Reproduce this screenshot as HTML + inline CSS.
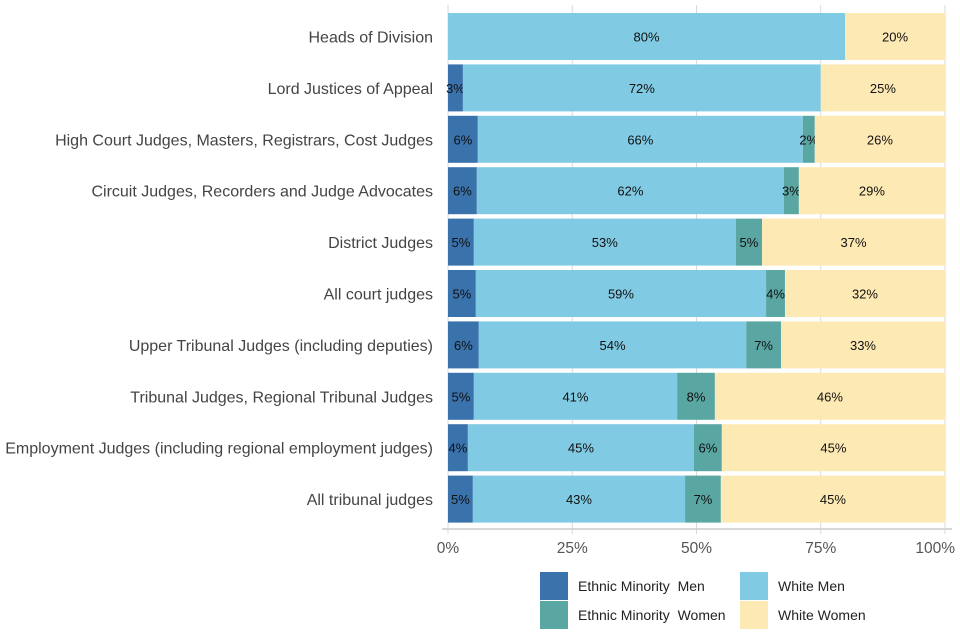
<!DOCTYPE html>
<html><head><meta charset="utf-8"><style>
body{margin:0;background:#fff;}
svg{display:block;font-family:"Liberation Sans",sans-serif;}
</style></head><body>
<svg id="chart" width="960" height="640"></svg>
<script>
const categories=["Heads of Division","Lord Justices of Appeal","High Court Judges, Masters, Registrars, Cost Judges","Circuit Judges, Recorders and Judge Advocates","District Judges","All court judges","Upper Tribunal Judges (including deputies)","Tribunal Judges, Regional Tribunal Judges","Employment Judges (including regional employment judges)","All tribunal judges"];
const emMen=[0,3,6,5.8,5.2,5.6,6.2,5.2,4,5];
const whiteMen=[79.9,72,65.4,61.8,52.7,58.4,53.8,40.9,45.5,42.7];
const emWomen=[0,0,2.4,3,5.3,3.8,7,7.6,5.6,7.2];
const whiteWomen=[20.1,25,26.2,29.4,36.8,32.2,33,46.3,44.9,45.1];
const emMenLabels=["","3%","6%","6%","5%","5%","6%","5%","4%","5%"];
const whiteMenLabels=["80%","72%","66%","62%","53%","59%","54%","41%","45%","43%"];
const emWomenLabels=["","","2%","3%","5%","4%","7%","8%","6%","7%"];
const whiteWomenLabels=["20%","25%","26%","29%","37%","32%","33%","46%","45%","45%"];
const ticks=[0,25,50,75,100];
const tickLabels=["0%","25%","50%","75%","100%"];

const NS="http://www.w3.org/2000/svg";
const svg=document.getElementById("chart");
const X0=448,X1=945,Y0=13,STEP=51.4,BH=47;
const x=v=>X0+(X1-X0)*v/100;
const y=i=>Y0+i*STEP;
function mk(t,a,p){const e=document.createElementNS(NS,t);for(const k in a)e.setAttribute(k,a[k]);(p||svg).appendChild(e);return e;}
ticks.forEach((t,i)=>{
 const g=mk("line",{x1:x(t),x2:x(t),y1:5,y2:534,stroke:"#d9d9d9","stroke-width":1});
 
 
 const last=i===ticks.length-1;
 const tl=mk("text",{x:last?955:x(t),y:553,"text-anchor":last?"end":"middle","font-size":15.5,fill:"#555"});
 tl.textContent=tickLabels[i];
 
 
});
const ax=mk("line",{x1:442,x2:952,y1:529,y2:529,stroke:"#ccc","stroke-width":1.5});


const series=[[emMen,emMenLabels,"#3a72ab","em-men"],[whiteMen,whiteMenLabels,"#80cae3","white-men"],[emWomen,emWomenLabels,"#5aa6a3","em-women"],[whiteWomen,whiteWomenLabels,"#fde9b3","white-women"]];
categories.forEach((c,i)=>{
 const cl=mk("text",{x:433,y:y(i)+BH/2+6,"text-anchor":"end","font-size":16,fill:"#444"});
 cl.textContent=c;
 
 
 let acc=0;
 series.forEach(s=>{
  const v=s[0][i];
  if(v>0){
   const r=mk("rect",{x:x(acc),y:y(i),width:x(acc+v)-x(acc),height:BH,fill:s[2]});
   
   
   if(s[1][i]){
    const t=mk("text",{x:(x(acc)+x(acc+v))/2,y:y(i)+BH/2+5,"text-anchor":"middle","font-size":13,fill:"#111"});
    t.textContent=s[1][i];
    
    
   }
  }
  acc+=v;
 });
});
const legend=[["Ethnic Minority  Men","#3a72ab",540,572],["Ethnic Minority  Women","#5aa6a3",540,601],["White Men","#80cae3",740,572],["White Women","#fde9b3",740,601]];
legend.forEach(l=>{
 const r=mk("rect",{x:l[2],y:l[3],width:28,height:28,fill:l[1]});
 
 
 const t=mk("text",{x:l[2]+38,y:l[3]+19,"font-size":14,fill:"#222"});
 t.setAttribute("style","white-space:pre");
 t.textContent=l[0];
 
 
});
</script>
</body></html>
